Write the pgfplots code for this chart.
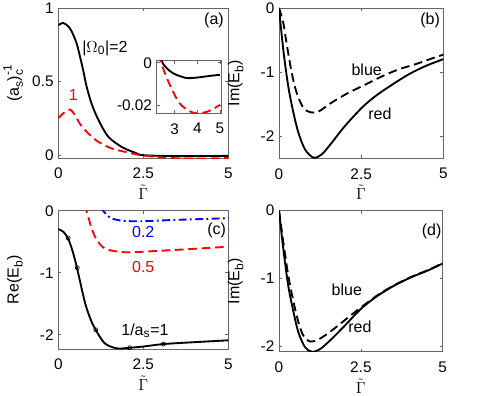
\documentclass[border=0pt]{standalone}
\usepackage{amsmath}
\usepackage{fontspec}
\setmainfont{Liberation Sans}
\usepackage{pgfplots}
\pgfplotsset{compat=1.18}
\usepackage{pgfplotstable}

% sub/superscripts a bit larger than TeX's script size, as in the original
\newcommand\sml[1]{\text{\fontsize{9}{9}\selectfont #1}}

% panel (a) curves, also used by the inset
\pgfplotstableread{
x y
0 0.885
0.15 0.900
0.30 0.875
0.40 0.840
0.54 0.760
0.64 0.670
0.74 0.570
0.83 0.470
0.98 0.350
1.18 0.240
1.47 0.125
1.86 0.056
2.10 0.030
2.26 0.016
2.40 0.002
2.60 -0.002
2.93 -0.005
3.50 -0.0072
4.00 -0.0070
4.50 -0.0063
5.00 -0.0057
}\omegatwo
\pgfplotstableread{
x y
0 0.250
0.15 0.285
0.34 0.310
0.50 0.270
0.63 0.215
0.88 0.148
1.18 0.090
1.57 0.045
1.96 0.022
2.20 0.009
2.40 0.000
2.75 -0.0097
3.20 -0.0190
3.66 -0.0230
4.00 -0.0240
4.50 -0.0230
5.00 -0.0200
}\omegaone

\tikzset{txt/.style={font=\fontsize{12}{14}\selectfont}}

\begin{document}
\begin{tikzpicture}
\pgfplotsset{
  panel/.style={
    scale only axis, anchor=south west, clip=true,
    axis line style={draw=gray!80!black, line width=0.5pt},
    tick style={draw=gray!80!black, line width=0.5pt},
    tick align=inside, major tick length=2.3pt,
    xmin=0, xmax=5, xtick={0,2.5,5}, xticklabels={0,2.5,5},
    tick label style={font=\fontsize{11.5}{13}\selectfont, text=black},
    xticklabel style={yshift=-4pt},
    scaled ticks=false,
    xlabel={$\tilde{\Gamma}$},
    xlabel style={font=\fontsize{12.5}{14}\selectfont, yshift=2.5pt},
    ylabel style={font=\fontsize{12}{14}\selectfont, yshift=6pt},
  },
  solidl/.style={black, line width=1.4pt, smooth, tension=0.5},
  dashl/.style={line width=1.4pt, smooth, tension=0.5, dash pattern=on 6.5pt off 3.5pt},
}

% (a)
\begin{axis}[panel, at={(43.7pt,-118.5pt)}, width=127.5pt, height=112.3pt,
  ymin=-0.02, ymax=1, ytick={0,0.5,1}, yticklabels={0,0.5,1},
  ylabel={$\text{(a}_{\sml{s}}\text{)}^{\sml{-1}}_{\sml{c}}$},
  ylabel style={yshift=-6pt}]
\addplot[solidl] table {\omegatwo};
\addplot[dashl, red] table {\omegaone};
\node[txt, anchor=west, inner sep=0pt] at (axis cs:0.70,0.73) {$\text{|}\Omega_{\sml{0}}\text{|=2}$};
\node[txt, red] at (axis cs:0.44,0.41) {1};
\node[txt] at (axis cs:4.58,0.92) {(a)};
\end{axis}

% inset of (a)
\begin{axis}[panel, at={(117.5pt,-85pt)}, width=48.6pt, height=39.5pt,
  xmin=2.2, xmax=5.07, xtick={3,4,5}, xticklabels={3,4,5}, xlabel={},
  ymin=-0.024, ymax=0.001, ytick={-0.02,0}, yticklabels={-0.02,0},
  axis background/.style={fill=white}]
\addplot[solidl] table {\omegatwo};
\addplot[dashl, red] table {\omegaone};
\end{axis}

% (b)
\begin{axis}[panel, at={(209.25pt,-118.7pt)}, width=123.2pt, height=112.7pt,
  ymin=-2.35, ymax=0, ytick={-2,-1,0}, yticklabels={-2,-1,0},
  ylabel={$\text{Im(E}_{\sml{b}}\text{)}$}]
\addplot[solidl] coordinates {(0,0) (0.13,-0.65) (0.28,-1.22) (0.44,-1.64) (0.59,-1.95) (0.79,-2.21) (1.05,-2.34) (1.3,-2.29) (1.6,-2.11) (2.0,-1.85) (2.52,-1.56) (2.93,-1.38) (3.44,-1.2) (3.94,-1.04) (4.45,-0.91) (5,-0.8)};
\addplot[dashl, black] coordinates {(0,0) (0.13,-0.23) (0.23,-0.55) (0.39,-1.02) (0.54,-1.33) (0.74,-1.56) (0.95,-1.63) (1.2,-1.62) (1.6,-1.48) (2.1,-1.33) (2.62,-1.2) (3.13,-1.07) (3.64,-0.96) (4.15,-0.88) (4.65,-0.79) (5,-0.73)};
\node[txt] at (axis cs:2.67,-0.96) {blue};
\node[txt] at (axis cs:3.07,-1.65) {red};
\node[txt] at (axis cs:4.6,-0.19) {(b)};
\end{axis}

% (c)
\begin{axis}[panel, at={(43.7pt,-261.75pt)}, width=127.5pt, height=103.7pt,
  ymin=-2.23, ymax=0, ytick={-2,-1,0}, yticklabels={-2,-1,0},
  ylabel={$\text{Re(E}_{\sml{b}}\text{)}$}]
\addplot[solidl] coordinates {(0,-0.295) (0.15,-0.34) (0.29,-0.45) (0.42,-0.65) (0.55,-0.92) (0.78,-1.47) (0.95,-1.75) (1.1,-1.92) (1.37,-2.14) (1.72,-2.22) (2.0,-2.215) (2.5,-2.19) (3.1,-2.15) (4,-2.12) (5,-2.09)};
\addplot[only marks, mark=o, mark size=1.5pt, black, line width=0.5pt] coordinates {(0.29,-0.44) (0.56,-0.92) (1.1,-1.92) (2.1,-2.21) (3.09,-2.15)};
\addplot[dashl, red] coordinates {(0.78,0.1) (0.83,0) (0.98,-0.28) (1.13,-0.47) (1.37,-0.61) (1.76,-0.66) (2.16,-0.67) (2.84,-0.65) (3.82,-0.62) (5,-0.58)};
\addplot[blue, line width=1.4pt, smooth, tension=0.5, dash pattern=on 6pt off 2.5pt on 1.4pt off 2.5pt] coordinates {(1.25,0.05) (1.32,0) (1.52,-0.11) (1.86,-0.16) (2.45,-0.17) (3.34,-0.15) (5,-0.12)};
\node[txt, blue] at (axis cs:2.5,-0.34) {0.2};
\node[txt, red] at (axis cs:2.5,-0.9) {0.5};
\node[txt] at (axis cs:2.55,-1.94) {$\text{1/a}_{\sml{s}}\text{=1}$};
\node[txt] at (axis cs:4.66,-0.31) {(c)};
\end{axis}

% (d)
\begin{axis}[panel, at={(209.25pt,-263.8pt)}, width=122.8pt, height=105.9pt,
  ymin=-2.08, ymax=0, ytick={-2,-1,0}, yticklabels={-2,-1,0},
  ylabel={$\text{Im(E}_{\sml{b}}\text{)}$}]
\addplot[solidl] coordinates {(0,0) (0.13,-0.56) (0.28,-1.1) (0.44,-1.49) (0.59,-1.79) (0.79,-2.01) (1.0,-2.08) (1.26,-2.04) (1.61,-1.89) (2.02,-1.69) (2.52,-1.44) (3.03,-1.25) (3.54,-1.1) (4.05,-0.98) (4.56,-0.88) (5,-0.78)};
\addplot[dashl, black] coordinates {(0,0) (0.13,-0.46) (0.28,-0.95) (0.44,-1.34) (0.59,-1.64) (0.74,-1.84) (0.95,-1.93) (1.2,-1.9) (1.55,-1.79) (2.02,-1.61) (2.52,-1.42) (3.03,-1.24) (3.54,-1.095) (4.05,-0.975) (4.56,-0.875) (5,-0.775)};
\node[txt] at (axis cs:2.07,-1.17) {blue};
\node[txt] at (axis cs:2.47,-1.71) {red};
\node[txt] at (axis cs:4.66,-0.31) {(d)};
\end{axis}

\pgfresetboundingbox
\path[use as bounding box] (0pt,0pt) rectangle (368.25pt,-296.25pt);
\end{tikzpicture}
\end{document}
